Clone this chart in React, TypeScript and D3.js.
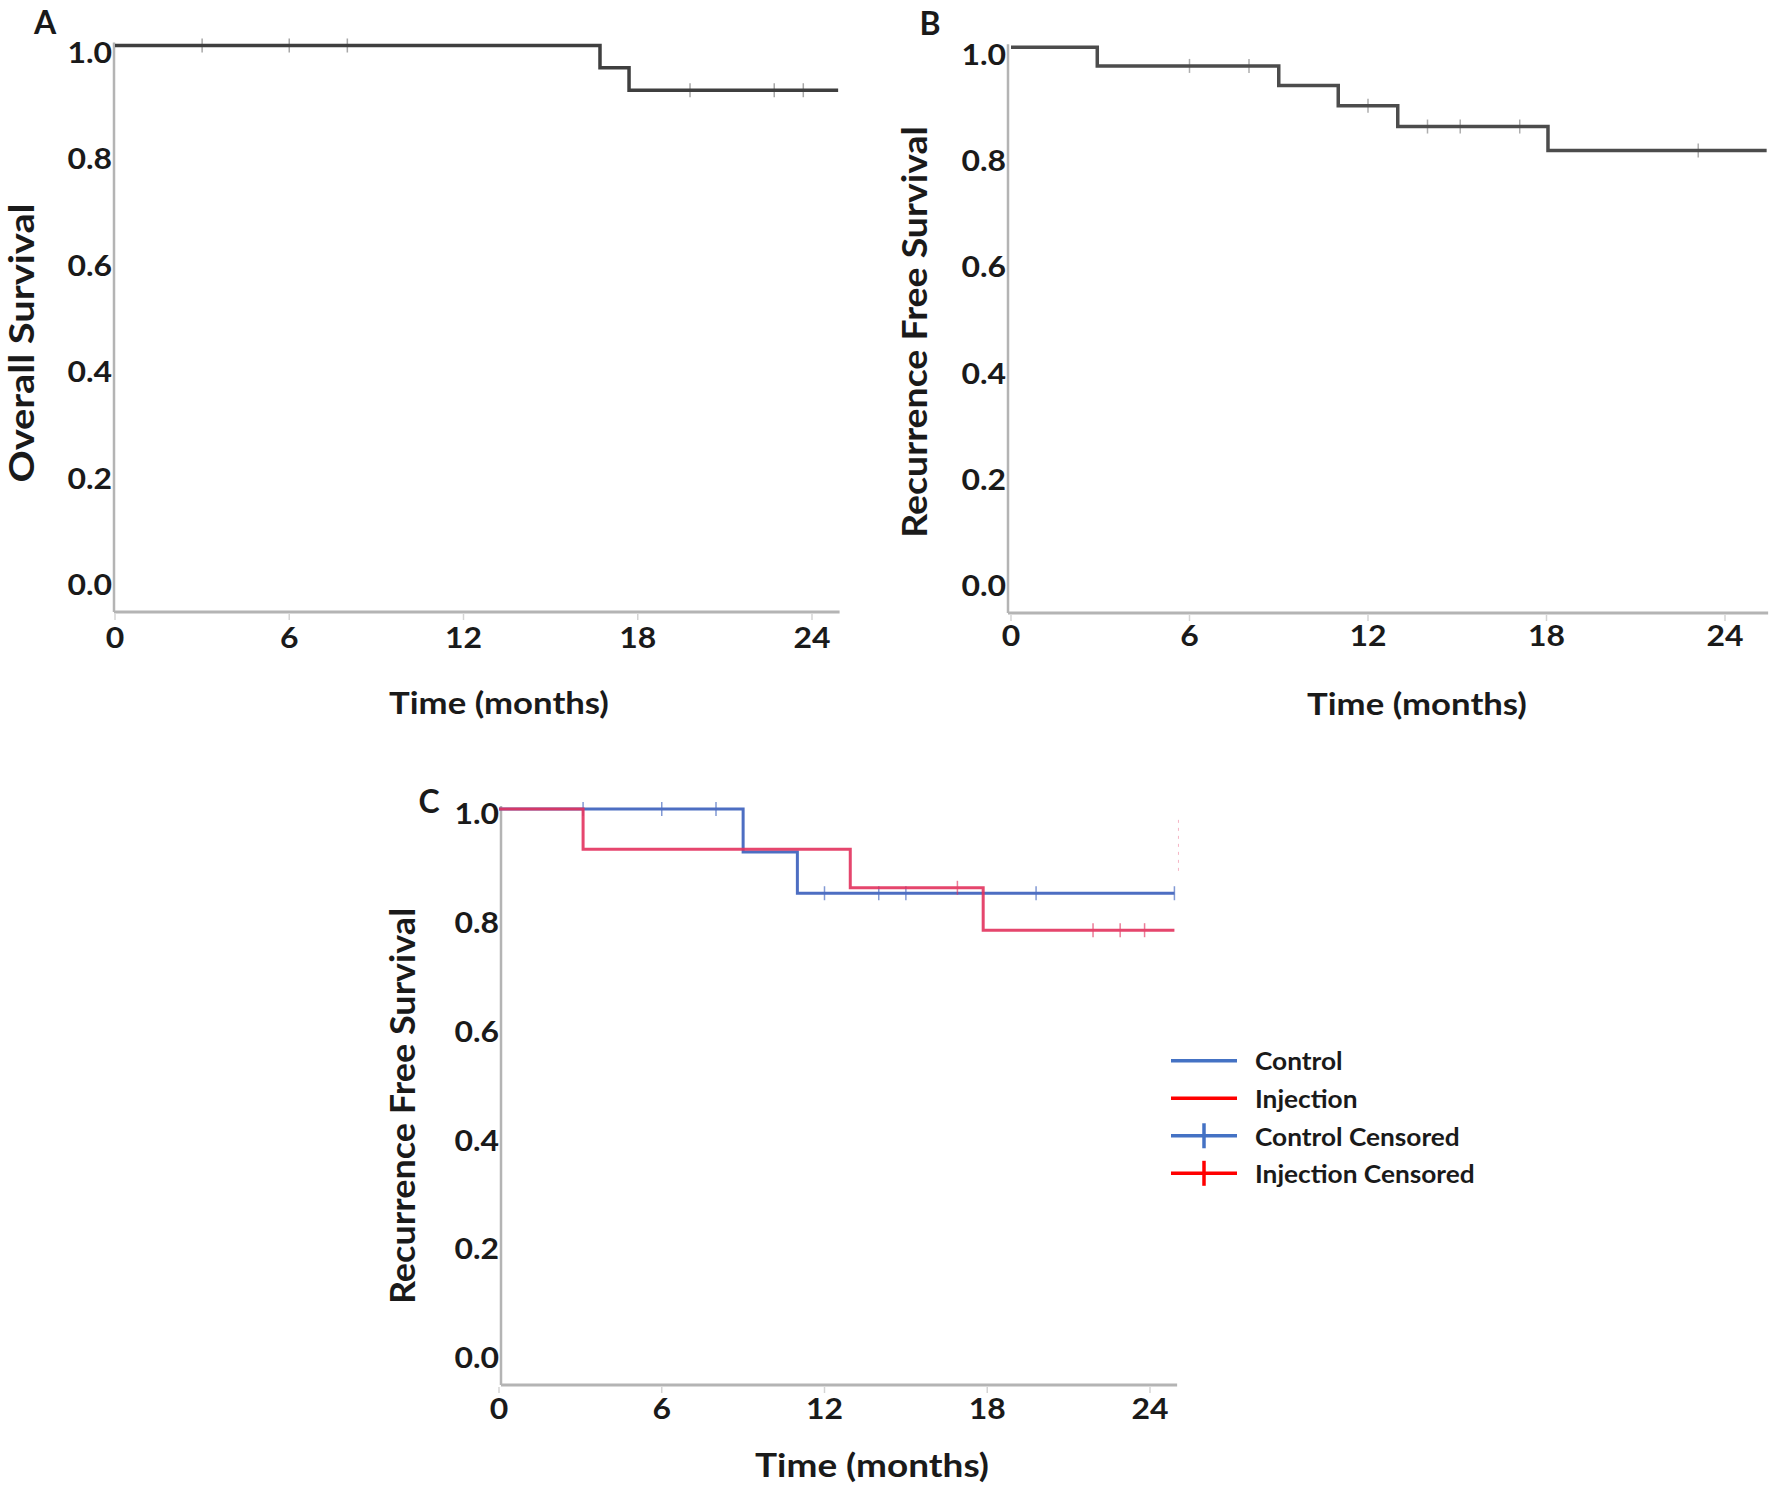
import React from 'react';
import * as d3 from 'd3';

// ---------- data ----------
const yTicks = [0, 0.2, 0.4, 0.6, 0.8, 1.0];
const xTicks = [0, 6, 12, 18, 24];

// Panel A: overall survival
const osTimes = [0, 16.7, 17.7];
const osSurv = [1.0, 0.958, 0.916];
const osEnd = 24.9;
const osCensor = [3, 6, 8, 19.8, 22.7, 23.7];

// Panel B: recurrence free survival (all)
const rfsTimes = [0, 2.9, 9, 11, 13, 18.05];
const rfsSurv = [1.0, 0.965, 0.928, 0.89, 0.851, 0.806];
const rfsEnd = 25.4;
const rfsCensor = [6, 8, 12, 14, 15.1, 17.1, 23.1];

// Panel C: by group
const ctrlTimes = [0, 9, 11];
const ctrlSurv = [1.0, 0.921, 0.845];
const ctrlEnd = 24.9;
const ctrlCensor = [3.1, 6, 8, 12, 14, 15, 19.8, 24.9];

const injTimes = [0, 3.1, 12.95, 17.85];
const injSurv = [1.0, 0.926, 0.855, 0.777];
const injEnd = 24.9;
const injCensor = [16.9, 21.9, 22.9, 23.8];

const legendNames = ['Control', 'Injection', 'Control Censored', 'Injection Censored'];

// ---------- styles ----------
const FONT = 'Lato, "Open Sans", sans-serif';
const AXIS_COLOR = '#b4b4b4';
const TEXT_COLOR = '#1a1a1a';
const BLUE = '#4d6ec2';
const RED = '#e3325e';
const LEG_BLUE = '#4472c4';
const LEG_RED = '#ff0000';

type Scale = d3.ScaleLinear<number, number>;

function survAt(times: number[], surv: number[], t: number) {
  let v = surv[0];
  for (let i = 0; i < times.length; i++) if (times[i] <= t) v = surv[i];
  return v;
}

function stepPath(times: number[], surv: number[], end: number, x: Scale, y: Scale) {
  const pts: [number, number][] = times.map((t, i) => [t, surv[i]]);
  pts.push([end, surv[surv.length - 1]]);
  const line = d3
    .line<[number, number]>()
    .x((d) => x(d[0]))
    .y((d) => y(d[1]))
    .curve(d3.curveStepAfter);
  return line(pts) || '';
}

function SText(props: {
  x: number;
  y: number;
  size: number;
  anchor?: string;
  rotate?: number;
  sx?: number;
  children: React.ReactNode;
}) {
  const { x, y, size, anchor = 'middle', rotate = 0, sx = 1.1, children } = props;
  return (
    <g transform={`translate(${x},${y}) rotate(${rotate}) scale(${sx},1)`}>
      <text
        textAnchor={anchor as any}
        dominantBaseline="central"
        fontFamily={FONT}
        fontWeight={700}
        fontSize={size}
        fill={TEXT_COLOR}
      >
        {children}
      </text>
    </g>
  );
}

interface Curve {
  times: number[];
  surv: number[];
  end: number;
  censor: number[];
  color: string;
  width: number;
  opacity?: number;
  censorOpacity: number;
}

function Panel(props: {
  x: Scale;
  y: Scale;
  axisX: number;
  axisBottom: number;
  xAxisMax: number;
  curves: Curve[];
  yTitle: string;
  yTitlePos: [number, number];
  yTitleSx: number;
  xTitlePos: [number, number];
  xTitleSize: number;
  letter: string;
  letterPos: [number, number];
  xLabelDy: number;
  yLabelDy: number;
}) {
  const { x, y, axisX, axisBottom, xAxisMax, curves } = props;
  return (
    <g>
      <line x1={axisX} x2={axisX} y1={y(1) - 3} y2={axisBottom} stroke={AXIS_COLOR} strokeWidth={2.5} />
      <line x1={axisX} x2={x(xAxisMax)} y1={axisBottom} y2={axisBottom} stroke={AXIS_COLOR} strokeWidth={3} />
      {xTicks.map((t) => (
        <line key={'xt' + t} x1={x(t)} x2={x(t)} y1={axisBottom + 2} y2={axisBottom + 8} stroke="#d4d4d4" strokeWidth={1.5} />
      ))}
      {yTicks.map((v) => (
        <SText key={'yl' + v} x={axisX - 2} y={y(v) + props.yLabelDy} size={29} anchor="end">
          {v.toFixed(1)}
        </SText>
      ))}
      {xTicks.map((t) => (
        <SText key={'xl' + t} x={x(t)} y={axisBottom + props.xLabelDy} size={29}>
          {t}
        </SText>
      ))}
      <SText x={props.xTitlePos[0]} y={props.xTitlePos[1]} size={props.xTitleSize} sx={1.12}>
        Time (months)
      </SText>
      <SText x={props.yTitlePos[0]} y={props.yTitlePos[1]} size={35} rotate={-90} sx={props.yTitleSx}>
        {props.yTitle}
      </SText>
      <SText x={props.letterPos[0]} y={props.letterPos[1]} size={32} sx={1}>
        {props.letter}
      </SText>
      {curves.map((c, i) => (
        <g key={'c' + i} opacity={c.opacity ?? 1}>
          <path d={stepPath(c.times, c.surv, c.end, x, y)} fill="none" stroke={c.color} strokeWidth={c.width} />
          {c.censor.map((t, j) => {
            const cy = y(survAt(c.times, c.surv, t));
            return (
              <line
                key={j}
                x1={x(t)}
                x2={x(t)}
                y1={cy - 7}
                y2={cy + 7}
                stroke={c.color}
                strokeWidth={1.5}
                opacity={c.censorOpacity}
              />
            );
          })}
        </g>
      ))}
    </g>
  );
}

export default function App() {
  const xA = d3.scaleLinear().domain([0, 24]).range([115, 812]);
  const yA = d3.scaleLinear().domain([0, 1]).range([578, 45.5]);
  const xB = d3.scaleLinear().domain([0, 24]).range([1011, 1725]);
  const yB = d3.scaleLinear().domain([0, 1]).range([579, 47.3]);
  const xC = d3.scaleLinear().domain([0, 24]).range([499, 1150]);
  const yC = d3.scaleLinear().domain([0, 1]).range([1352.5, 809]);

  const legendY = d3.scaleLinear().domain([0, 3]).range([1060.7, 1173.3]);
  const legendColors = [LEG_BLUE, LEG_RED, LEG_BLUE, LEG_RED];

  return (
    <svg
      width={1770}
      height={1488}
      viewBox="0 0 1770 1488"
      style={{ position: 'absolute', left: 0, top: 0, background: '#fff' }}
    >
      <rect x={0} y={0} width={1770} height={1488} fill="#fff" />
      <Panel
        x={xA}
        y={yA}
        axisX={114}
        axisBottom={612}
        xAxisMax={24.95}
        curves={[
          { times: osTimes, surv: osSurv, end: osEnd, censor: osCensor, color: '#3f3f3f', width: 3.5, censorOpacity: 0.45 },
        ]}
        yTitle="Overall Survival"
        yTitlePos={[20, 343]}
        yTitleSx={1.14}
        xTitlePos={[499, 702]}
        xTitleSize={31}
        letter="A"
        letterPos={[45, 21.5]}
        xLabelDy={25}
        yLabelDy={6}
      />
      <Panel
        x={xB}
        y={yB}
        axisX={1008}
        axisBottom={613}
        xAxisMax={25.45}
        curves={[
          { times: rfsTimes, surv: rfsSurv, end: rfsEnd, censor: rfsCensor, color: '#4c4c4c', width: 3.5, censorOpacity: 0.45 },
        ]}
        yTitle="Recurrence Free Survival"
        yTitlePos={[913, 332]}
        yTitleSx={1.07}
        xTitlePos={[1417, 703]}
        xTitleSize={31}
        letter="B"
        letterPos={[930, 22]}
        xLabelDy={22}
        yLabelDy={6}
      />
      <Panel
        x={xC}
        y={yC}
        axisX={501}
        axisBottom={1385}
        xAxisMax={25.0}
        curves={[
          { times: ctrlTimes, surv: ctrlSurv, end: ctrlEnd, censor: ctrlCensor, color: BLUE, width: 3, censorOpacity: 0.7 },
          { times: injTimes, surv: injSurv, end: injEnd, censor: injCensor, color: RED, width: 3, opacity: 0.9, censorOpacity: 0.7 },
        ]}
        yTitle="Recurrence Free Survival"
        yTitlePos={[402, 1106]}
        yTitleSx={1.03}
        xTitlePos={[872, 1464]}
        xTitleSize={33}
        letter="C"
        letterPos={[429, 800]}
        xLabelDy={23}
        yLabelDy={4}
      />
      {/* faint dashed marker at the end of panel C */}
      <line
        x1={xC(25.05)}
        x2={xC(25.05)}
        y1={yC(0.98)}
        y2={yC(0.88)}
        stroke={RED}
        strokeWidth={1}
        strokeDasharray="3 5"
        opacity={0.35}
      />
      {legendNames.map((name, i) => {
        const ly = legendY(i);
        return (
          <g key={name}>
            <line x1={1171} x2={1237} y1={ly} y2={ly} stroke={legendColors[i]} strokeWidth={3.5} />
            {i >= 2 && (
              <line x1={1204} x2={1204} y1={ly - 12.5} y2={ly + 12.5} stroke={legendColors[i]} strokeWidth={3.5} />
            )}
            <SText x={1255} y={ly} size={25} anchor="start" sx={1.05}>
              {name}
            </SText>
          </g>
        );
      })}
    </svg>
  );
}
